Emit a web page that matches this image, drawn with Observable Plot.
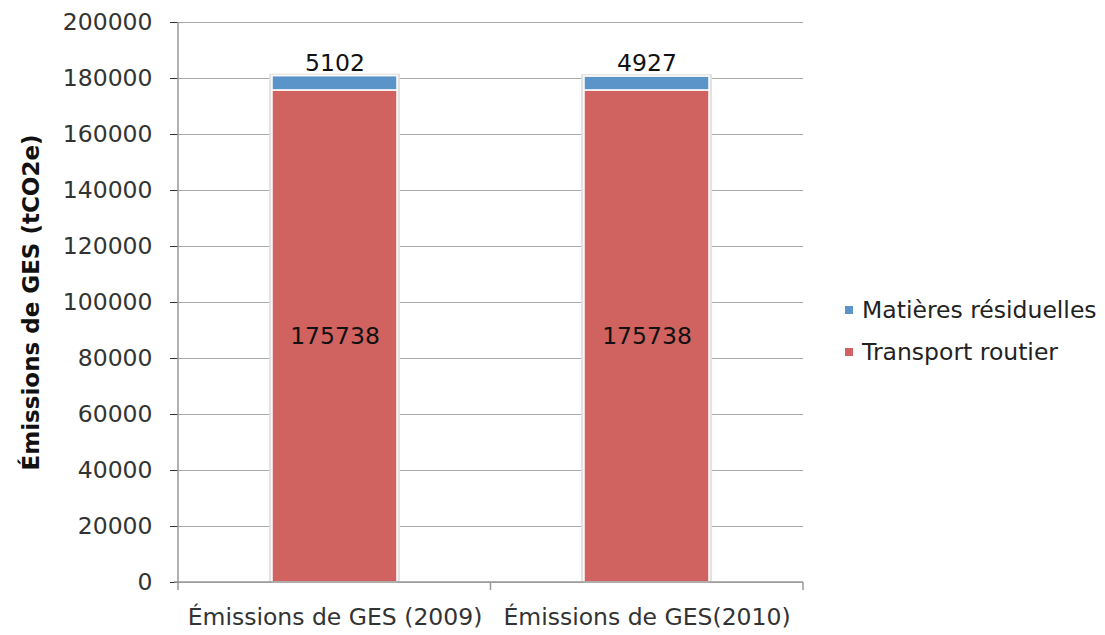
<!DOCTYPE html>
<html><head><meta charset="utf-8">
<script src="https://cdn.jsdelivr.net/npm/d3@7"></script>
<script src="https://cdn.jsdelivr.net/npm/@observablehq/plot@0.6"></script>
<style>
body{margin:0;background:#fff;font-family:"DejaVu Sans",Verdana,sans-serif;}
#wrap{position:relative;width:1105px;height:635px;}
#legend{position:absolute;left:845px;top:289px;font-size:23.5px;color:#222;white-space:nowrap;}
#legend div{display:flex;align-items:center;height:42px;}
#legend span.sw{display:inline-block;width:8px;height:8px;margin-right:9px;}
</style></head>
<body><div id="wrap"><div id="legend"></div></div>
<script>
const categories = ["Émissions de GES (2009)", "Émissions de GES(2010)"];
const seriesNames = ["Matières résiduelles", "Transport routier"];
const transportRoutier = [175738, 175738];
const matieresResiduelles = [5102, 4927];
const yTicks = [0, 20000, 40000, 60000, 80000, 100000, 120000, 140000, 160000, 180000, 200000];
const colors = ["#5B94C8", "#D0635F"];

const rows = [];
categories.forEach((c, i) => {
  rows.push({cat: c, series: seriesNames[1], value: transportRoutier[i], order: 0});
  rows.push({cat: c, series: seriesNames[0], value: matieresResiduelles[i], order: 1});
});
const totals = categories.map((c, i) => ({cat: c, total: transportRoutier[i] + matieresResiduelles[i], top: matieresResiduelles[i], mid: transportRoutier[i]}));

const chart = Plot.plot({
  width: 1105, height: 635,
  marginLeft: 178, marginRight: 302, marginTop: 22, marginBottom: 53,
  style: {fontFamily: '"DejaVu Sans", Verdana, sans-serif', fontSize: "23.5px", color: "#333", background: "#fff"},
  x: {domain: categories, paddingInner: 0.6, paddingOuter: 0.3, label: null, tickSize: 0, tickPadding: 26},
  y: {domain: [0, 200000], ticks: yTicks, tickFormat: d => String(d), tickSize: 8, tickPadding: 18,
      label: "Émissions de GES (tCO2e)", labelAnchor: "center", labelArrow: "none", labelOffset: 156},
  color: {domain: seriesNames, range: colors},
  marks: [
    Plot.ruleY(yTicks, {stroke: "#a8a8a8", strokeWidth: 1.2}),
    Plot.barY(totals, {x: "cat", y: "total", fill: "#e2e2e2", insetLeft: -3, insetRight: -3, insetTop: -2}),
    Plot.barY(rows, Plot.stackY({x: "cat", y: "value", fill: "series", order: "order", stroke: "#fff", strokeWidth: 1.5})),
    Plot.text(totals, {x: "cat", y: "total", text: d => String(d.top), dy: -13, fontSize: 23.5, fill: "#111"}),
    Plot.text(totals, {x: "cat", y: d => d.mid / 2, text: d => String(d.mid), fontSize: 23.5, fill: "#111"})
  ]
});
chart.querySelectorAll("g[aria-label='y-axis label'] text").forEach(t => { t.setAttribute("font-weight", "bold"); t.setAttribute("font-size", "23"); t.setAttribute("fill", "#111"); });

// axis lines and category boundary ticks, via the plot's own scales
const xs = chart.scale("x"), ys = chart.scale("y");
const [r0, r1] = xs.range;
const y0 = ys.apply(0), yTop = ys.apply(200000);
const bw = xs.bandwidth;
const mid = (xs.apply(categories[0]) + bw + xs.apply(categories[1])) / 2;
const svg = d3.select(chart);
const g = svg.append("g").attr("stroke", "#999").attr("stroke-width", 1.5);
g.append("line").attr("x1", r0).attr("x2", r0).attr("y1", yTop).attr("y2", y0);
g.append("line").attr("x1", r0 - 4).attr("x2", r1).attr("y1", y0).attr("y2", y0);
[r0, mid, r1].forEach(x => g.append("line").attr("x1", x).attr("x2", x).attr("y1", y0).attr("y2", y0 + 8));

document.getElementById("wrap").prepend(chart);
chart.style.position = "absolute"; chart.style.left = "0"; chart.style.top = "0";

const leg = document.getElementById("legend");
seriesNames.forEach((s, i) => {
  const d = document.createElement("div");
  d.innerHTML = `<span class="sw" style="background:${colors[i]}"></span>${s}`;
  leg.appendChild(d);
});
</script></body></html>
